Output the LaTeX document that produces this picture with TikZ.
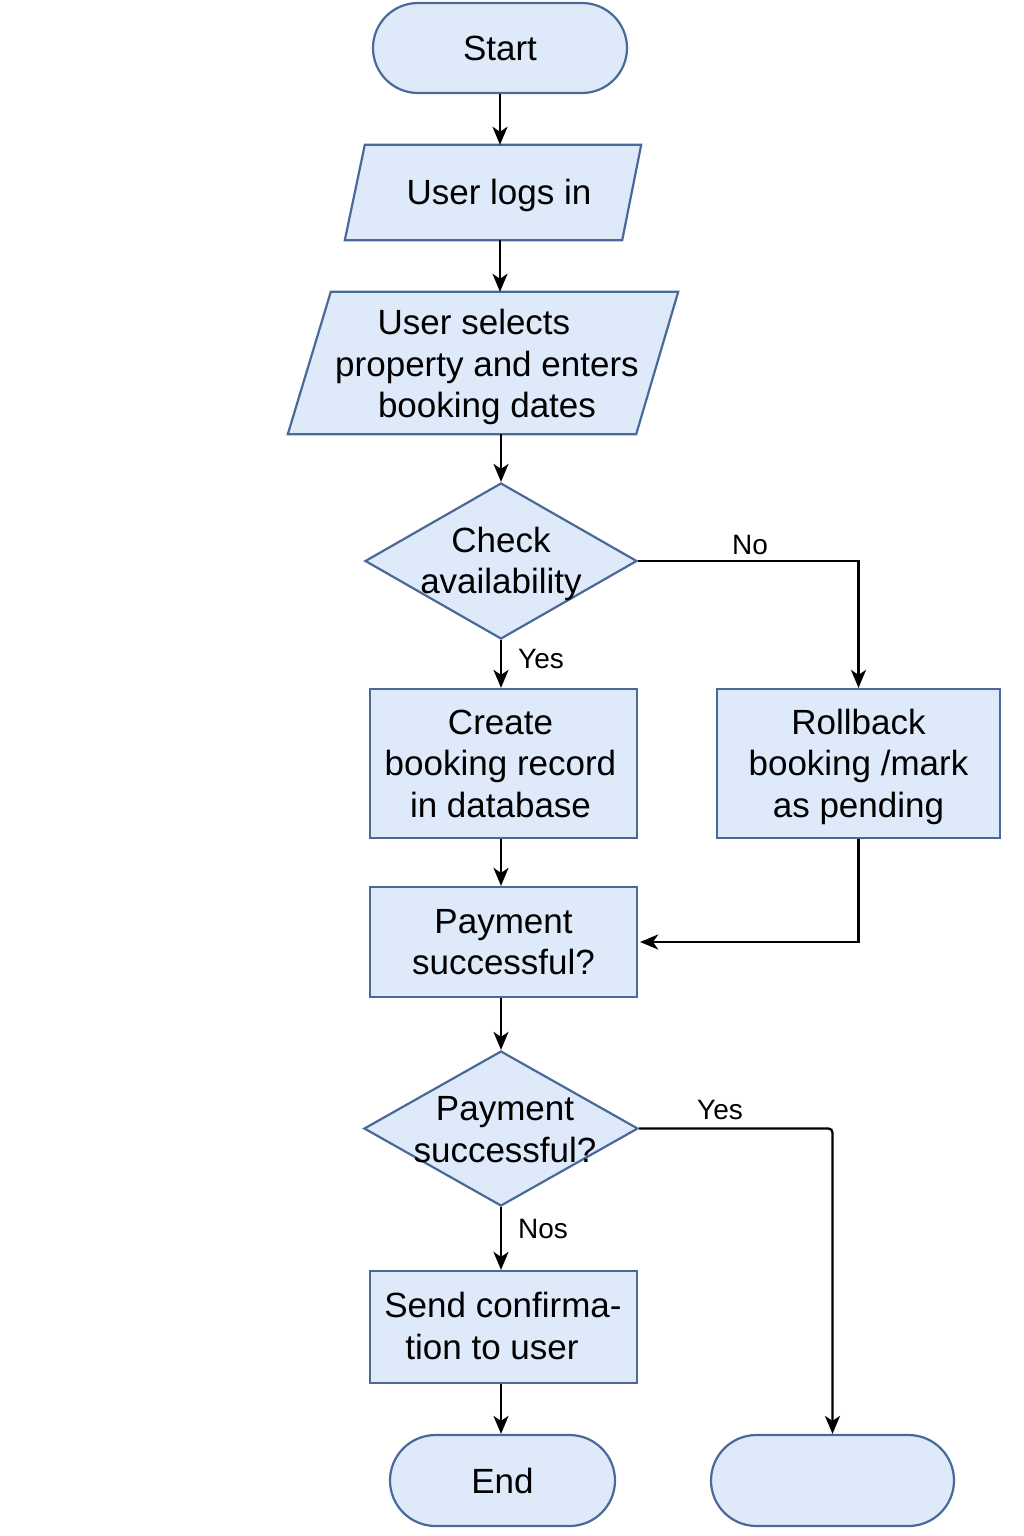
\documentclass[tikz,border=0pt]{standalone}
\usepackage{fontspec}
\setmainfont{Liberation Sans}
\usetikzlibrary{shapes.geometric,shapes.misc,arrows.meta,backgrounds}
\definecolor{boxfill}{HTML}{DEE9FA}
\definecolor{boxline}{HTML}{4A6898}
\begin{document}
\begin{tikzpicture}[x=1pt,y=-1pt,
  shp/.style={draw=boxline, fill=boxfill, line width=2.2pt},
  txt/.style={font=\fontsize{35}{41.5}\selectfont, align=center, text=black, inner sep=0pt},
  lbl/.style={font=\fontsize{28}{33}\selectfont, inner sep=0pt},
  arr/.style={-{Stealth[length=18pt,width=15pt,inset=5pt]}, line width=2.3pt, black},
  term/.style={shp, rounded rectangle, inner sep=0pt, txt},
  proc/.style={shp, rectangle, inner sep=0pt, txt},
  dec/.style={shp, diamond, inner sep=0pt},
  pbox/.style={rectangle, inner sep=0pt}
]
\useasboundingbox (0,0) rectangle (1024,1536);

% terminals
\node[term, minimum width=254, minimum height=90] (start) at (500,48) {Start};
% parallelograms (frames) and their texts
\node[pbox, minimum width=276, minimum height=95] (p1) at (500,192.5) {};
\node[pbox, minimum width=348, minimum height=142] (p2) at (486,363) {};
\begin{scope}[on background layer]
  \fill[white] (0,0) rectangle (1024,1536);
  \draw[shp] ([xshift=3pt]p1.north west) -- ([xshift=3pt]p1.north east)
     -- ([xshift=-16pt]p1.south east) -- ([xshift=-17pt]p1.south west) -- cycle;
  \draw[shp] ([xshift=19pt]p2.north west) -- ([xshift=18pt]p2.north east)
     -- ([xshift=-24pt]p2.south east) -- ([xshift=-24pt]p2.south west) -- cycle;
\end{scope}
\node[txt] (p1t) at (499,195.5) {User logs in};
\node[txt] (p2t) at (487,367) {User selects\kern26pt\\property and enters\\booking dates};
% decision 1
\node[dec, minimum width=272, minimum height=156] (d1) at (501,561) {};
\node[txt] (d1t) at (501,564) {Check\\availability};
% process boxes
\node[proc, minimum width=267, minimum height=149] (c) at (503.5,763.5) {};
\node[txt] (ct) at (500.5,763.5) {Create\\booking record\\in database};
\node[proc, minimum width=283, minimum height=149] (r) at (858.5,763.5) {};
\node[txt] (rt) at (858.5,766.5) {Rollback\\booking /mark\\as pending};
\node[proc, minimum width=267, minimum height=110] (pay) at (503.5,942) {Payment\\successful?};
% decision 2
\node[dec, minimum width=274, minimum height=155] (d2) at (501,1128.5) {};
\node[txt] (d2t) at (505,1129.5) {Payment\\successful?};
\node[proc, minimum width=267, minimum height=112] (s) at (503.5,1327) {};
\node[txt] (st) at (503,1326) {Send confirma-\\tion to user\kern22pt};
\node[term, minimum width=225, minimum height=91] (e) at (502.5,1480.5) {End};
\node[term, minimum width=243, minimum height=91] (b) at (832.5,1480.5) {};

% connectors
\draw[arr] (start.south) -- (start.south |- p1.north);
\draw[arr] (p1.south) -- (p1.south |- p2.north);
\draw[arr] (d1.north |- p2.south) -- (d1.north);
\draw[arr] (d1.south) -- (d1.south |- c.north);
\draw[arr] (d1.south |- c.south) -- (d1.south |- pay.north);
\draw[arr] (d1.south |- pay.south) -- (d2.north);
\draw[arr] (d2.south) -- (d2.south |- s.north);
\draw[arr] (d2.south |- s.south) -- (d2.south |- e.north);
\draw[arr] (d1.east) -- (r.north |- d1.east) -- (r.north);
\draw[arr] (r.south) -- (r.south |- pay.east) -- ([xshift=2pt]pay.east);
\draw[arr, rounded corners=4pt] (d2.east) -- (b.north |- d2.east) -- (b.north);

% labels
\node[lbl] (lno) at (750,545) {No};
\node[lbl] (lyes1) at (541,659) {Yes};
\node[lbl] (lyes2) at (720,1110) {Yes};
\node[lbl] (lnos) at (543,1229) {Nos};
\end{tikzpicture}
\end{document}
